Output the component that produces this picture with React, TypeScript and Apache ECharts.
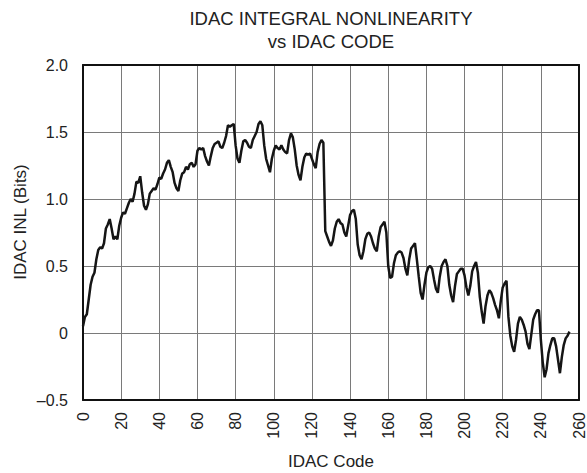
import React, { useEffect, useRef } from "react";
import * as echarts from "echarts";

// IDAC integral nonlinearity (bits), one value per code 0..255
const inlCodes0to63: number[] = [
  0.05, 0.12, 0.14, 0.25, 0.36, 0.42, 0.45, 0.55, 0.62, 0.64,
  0.63, 0.67, 0.78, 0.81, 0.85, 0.78, 0.70, 0.72, 0.70, 0.80,
  0.86, 0.90, 0.89, 0.93, 0.97, 1.00, 0.98, 1.04, 1.13, 1.12,
  1.17, 1.05, 0.95, 0.92, 0.96, 1.04, 1.06, 1.08, 1.07, 1.11,
  1.16, 1.15, 1.19, 1.22, 1.27, 1.29, 1.24, 1.20, 1.12, 1.08,
  1.06, 1.14, 1.19, 1.20, 1.24, 1.22, 1.26, 1.27, 1.24, 1.26,
  1.36, 1.38, 1.37, 1.38,
];
const inlCodes64to127: number[] = [
  1.32, 1.28, 1.25, 1.32, 1.38, 1.41, 1.42, 1.43, 1.39, 1.38,
  1.42, 1.47, 1.55, 1.54, 1.55, 1.56, 1.40, 1.30, 1.27, 1.36,
  1.43, 1.44, 1.42, 1.39, 1.38, 1.44, 1.47, 1.50, 1.56, 1.58,
  1.55, 1.40, 1.30, 1.25, 1.20, 1.30, 1.36, 1.40, 1.38, 1.37,
  1.40, 1.37, 1.35, 1.34, 1.44, 1.49, 1.46, 1.37, 1.25, 1.18,
  1.14, 1.24, 1.31, 1.34, 1.33, 1.34, 1.30, 1.26, 1.23, 1.35,
  1.41, 1.44, 1.42, 0.76,
];
const inlCodes128to191: number[] = [
  0.72, 0.68, 0.65, 0.69, 0.78, 0.83, 0.85, 0.82, 0.81, 0.75,
  0.72, 0.80, 0.88, 0.91, 0.92, 0.85, 0.66, 0.58, 0.55, 0.61,
  0.70, 0.74, 0.75, 0.72, 0.67, 0.63, 0.61, 0.72, 0.79, 0.81,
  0.83, 0.75, 0.50, 0.41, 0.42, 0.52, 0.58, 0.60, 0.61, 0.60,
  0.56, 0.48, 0.43, 0.55, 0.63, 0.65, 0.67, 0.55, 0.42, 0.30,
  0.25, 0.36, 0.45, 0.49, 0.50, 0.48, 0.40, 0.33, 0.30, 0.42,
  0.50, 0.53, 0.55, 0.50,
];
const inlCodes192to255: number[] = [
  0.36, 0.28, 0.23, 0.35, 0.44, 0.46, 0.48, 0.48, 0.43, 0.34,
  0.28, 0.35, 0.46, 0.50, 0.53, 0.45, 0.27, 0.16, 0.07, 0.20,
  0.28, 0.32, 0.30, 0.26, 0.21, 0.17, 0.11, 0.24, 0.34, 0.37,
  0.39, 0.12, -0.02, -0.10, -0.14, -0.05, 0.07, 0.12, 0.10, 0.06,
  0.01, -0.08, -0.12, -0.01, 0.10, 0.14, 0.17, 0.17, -0.05, -0.22,
  -0.33, -0.27, -0.15, -0.09, -0.04, -0.04, -0.10, -0.20, -0.30, -0.18,
  -0.09, -0.04, -0.02, 0.01,
];

const xTicks = { min: 0, max: 260, interval: 20 };
const yTicks = { min: -0.5, max: 2.0, interval: 0.5 };

const titleLines = ["IDAC INTEGRAL NONLINEARITY", "vs IDAC CODE"];
const xAxisTitle = "IDAC Code";
const yAxisTitle = "IDAC INL (Bits)";

const FONT = "'Liberation Sans', Arial, Helvetica, sans-serif";

function formatY(v: number): string {
  if (Math.abs(v) < 1e-9) return "0";
  if (v < 0) return "\u2013" + Math.abs(v).toFixed(1);
  return v.toFixed(1);
}

export default function App() {
  const ref = useRef<HTMLDivElement>(null);

  useEffect(() => {
    if (!ref.current) return;
    document.body.style.margin = "0";
    const chart = echarts.init(ref.current, undefined, { renderer: "svg" });

    const inl = [
      ...inlCodes0to63,
      ...inlCodes64to127,
      ...inlCodes128to191,
      ...inlCodes192to255,
    ];
    const points = inl.map((v, code) => [code, v]);

    const gridLeft = 83;
    const gridTop = 65;
    const gridWidth = 496;
    const gridHeight = 335;
    const cx = gridLeft + gridWidth / 2;

    const frameAxisLine = { show: true, onZero: false, lineStyle: { color: "#111", width: 2 } };

    chart.setOption({
      animation: false,
      backgroundColor: "#ffffff",
      grid: {
        left: gridLeft,
        top: gridTop,
        width: gridWidth,
        height: gridHeight,
      },
      xAxis: [
        {
          type: "value",
          min: xTicks.min,
          max: xTicks.max,
          interval: xTicks.interval,
          axisLine: frameAxisLine,
          axisTick: { show: false },
          axisLabel: {
            rotate: 90,
            margin: 12,
            fontSize: 16,
            fontFamily: FONT,
            color: "#222",
          },
          splitLine: { show: true, lineStyle: { color: "#7a7a7a", width: 1 } },
        },
        {
          type: "value",
          position: "top",
          min: xTicks.min,
          max: xTicks.max,
          axisLine: frameAxisLine,
          axisTick: { show: false },
          axisLabel: { show: false },
          splitLine: { show: false },
        },
      ],
      yAxis: [
        {
          type: "value",
          min: yTicks.min,
          max: yTicks.max,
          interval: yTicks.interval,
          axisLine: frameAxisLine,
          axisTick: { show: false },
          axisLabel: {
            margin: 15,
            fontSize: 16,
            fontFamily: FONT,
            color: "#222",
            formatter: formatY,
          },
          splitLine: { show: true, lineStyle: { color: "#7a7a7a", width: 1 } },
        },
        {
          type: "value",
          position: "right",
          min: yTicks.min,
          max: yTicks.max,
          axisLine: frameAxisLine,
          axisTick: { show: false },
          axisLabel: { show: false },
          splitLine: { show: false },
        },
      ],
      series: [
        {
          type: "line",
          data: points,
          xAxisIndex: 0,
          yAxisIndex: 0,
          showSymbol: false,
          symbol: "none",
          lineStyle: { color: "#151515", width: 2.5 },
          z: 5,
        },
      ],
      graphic: [
        {
          type: "text",
          x: cx,
          y: 18,
          style: {
            text: titleLines[0],
            fontSize: 18.5,
            fontFamily: FONT,
            fill: "#222",
            align: "center",
            verticalAlign: "middle",
          },
        },
        {
          type: "text",
          x: cx,
          y: 41,
          style: {
            text: titleLines[1],
            fontSize: 18.5,
            fontFamily: FONT,
            fill: "#222",
            align: "center",
            verticalAlign: "middle",
          },
        },
        {
          type: "text",
          x: cx,
          y: 461,
          style: {
            text: xAxisTitle,
            fontSize: 17,
            fontFamily: FONT,
            fill: "#222",
            align: "center",
            verticalAlign: "middle",
          },
        },
        {
          type: "text",
          x: 20,
          y: 222,
          rotation: Math.PI / 2,
          style: {
            text: yAxisTitle,
            fontSize: 17,
            fontFamily: FONT,
            fill: "#222",
            align: "center",
            verticalAlign: "middle",
          },
        },
      ],
    });

    return () => chart.dispose();
  }, []);

  return <div ref={ref} style={{ width: 587, height: 473 }} />;
}
